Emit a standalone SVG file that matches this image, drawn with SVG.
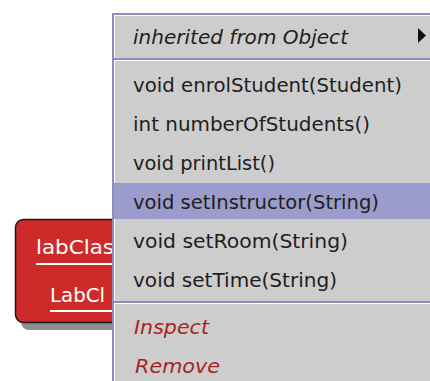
<svg xmlns="http://www.w3.org/2000/svg" width="430" height="381" viewBox="0 0 430 381">
<style>
.m{font-family:"DejaVu Sans","Liberation Sans",sans-serif;font-size:19.5px;fill:#1e1e1e;}
.it{font-style:italic;}
.act{fill:#a82424;}
.w{font-family:"DejaVu Sans","Liberation Sans",sans-serif;font-size:19.5px;fill:#ffffff;}
.b{fill:#8c8cc0;}
.hl{fill:#ffffff;}
</style>
<rect width="430" height="381" fill="#ffffff"/>
<g id="object-labClass">
  <rect x="21" y="226" width="200" height="104" rx="8" fill="#8e8e8e"/>
  <rect x="15.5" y="219.5" width="200" height="103" rx="8" fill="#cf2a2a" stroke="#1a1a1a" stroke-width="1.5"/>
  <text class="w" x="36" y="254" textLength="78" lengthAdjust="spacingAndGlyphs">labClas</text>
  <rect x="36" y="263" width="80" height="2" fill="#ffffff"/>
  <text class="w" x="50" y="302" textLength="55" lengthAdjust="spacingAndGlyphs">LabCl</text>
  <rect x="50" y="310" width="66" height="2" fill="#ffffff"/>
</g>
<g id="menu">
  <rect x="112" y="13" width="330" height="380" fill="#cdcdcd"/>
  <rect class="b" x="112" y="13" width="330" height="2"/>
  <rect class="b" x="112" y="13" width="2" height="380"/>
  <rect class="hl" x="114" y="15" width="330" height="1"/>
  <rect class="hl" x="114" y="15" width="1" height="380"/>
  <text class="m it" x="133" y="44" textLength="215" lengthAdjust="spacingAndGlyphs">inherited from Object</text>
  <polygon points="418,28 426,35.5 418,43" fill="#111111"/>
  <rect class="b" x="114" y="58" width="330" height="2"/>
  <rect class="hl" x="114" y="60" width="330" height="1"/>
  <rect x="114" y="183" width="330" height="36" fill="#9b9bcc"/>
  <text class="m" x="133" y="92" textLength="269" lengthAdjust="spacingAndGlyphs">void enrolStudent(Student)</text>
  <text class="m" x="133" y="131" textLength="237" lengthAdjust="spacingAndGlyphs">int numberOfStudents()</text>
  <text class="m" x="133" y="170" textLength="142" lengthAdjust="spacingAndGlyphs">void printList()</text>
  <text class="m" x="133" y="209" textLength="246" lengthAdjust="spacingAndGlyphs">void setInstructor(String)</text>
  <text class="m" x="133" y="248" textLength="215" lengthAdjust="spacingAndGlyphs">void setRoom(String)</text>
  <text class="m" x="133" y="287" textLength="204" lengthAdjust="spacingAndGlyphs">void setTime(String)</text>
  <rect class="b" x="114" y="301" width="330" height="2"/>
  <rect class="hl" x="114" y="303" width="330" height="1"/>
  <text class="m it act" x="134" y="334" textLength="75" lengthAdjust="spacingAndGlyphs">Inspect</text>
  <text class="m it act" x="135" y="373" textLength="85" lengthAdjust="spacingAndGlyphs">Remove</text>
</g>
<g id="connectors"></g>
</svg>
